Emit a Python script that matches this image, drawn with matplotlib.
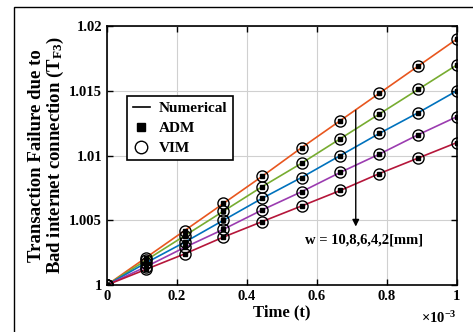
import matplotlib.pyplot as plt
from matplotlib.patches import Rectangle

plt.rcParams['font.family'] = ['Liberation Serif', 'DejaVu Serif']
plt.rcParams['font.weight'] = 'bold'
plt.rcParams['mathtext.fontset'] = 'custom'
plt.rcParams['mathtext.rm'] = 'Liberation Serif:bold'
plt.rcParams['mathtext.it'] = 'Liberation Serif:bold'

# time in units of 1e-3
t = [0, 0.111, 0.222, 0.333, 0.444, 0.556, 0.667, 0.778, 0.889, 1.0]
w_labels = ["10", "8", "6", "4", "2"]
T_w10 = [1.0000, 1.0021, 1.0042, 1.0063, 1.0084, 1.0106, 1.0127, 1.0148, 1.0169, 1.0190]
T_w8 = [1.0000, 1.0019, 1.0038, 1.0057, 1.0076, 1.0094, 1.0113, 1.0132, 1.0151, 1.0170]
T_w6 = [1.0000, 1.0017, 1.0033, 1.0050, 1.0067, 1.0083, 1.0100, 1.0117, 1.0133, 1.0150]
T_w4 = [1.0000, 1.0014, 1.0029, 1.0043, 1.0058, 1.0072, 1.0087, 1.0101, 1.0116, 1.0130]
T_w2 = [1.0000, 1.0012, 1.0024, 1.0037, 1.0049, 1.0061, 1.0073, 1.0086, 1.0098, 1.0110]
series = [T_w10, T_w8, T_w6, T_w4, T_w2]
colors = ['#E8561E', '#77AC30', '#0072BD', '#9B3CB0', '#B5163A']

fig = plt.figure(figsize=(4.73, 3.32), dpi=100)
ax = fig.add_axes([0.226, 0.1416, 0.74, 0.78])

for y, c in zip(series, colors):
    ax.plot(t, y, color=c, lw=1.2, zorder=2)
    ax.plot(t, y, 's', color='k', ms=3.2, zorder=3)
    ax.plot(t, y, 'o', mfc='none', mec='k', mew=1.0, ms=8, zorder=3)

ax.set_xlim(0, 1)
ax.set_ylim(1, 1.02)
ax.set_xticks([0, 0.2, 0.4, 0.6, 0.8, 1])
ax.set_xticklabels(['0', '0.2', '0.4', '0.6', '0.8', '1'])
ax.set_yticks([1, 1.005, 1.01, 1.015, 1.02])
ax.set_yticklabels(['1', '1.005', '1.01', '1.015', '1.02'])
ax.tick_params(direction='in', top=True, right=True, labelsize=10.5, length=4, width=1)
ax.grid(True, color='#d0d0d0', lw=0.8)
ax.set_axisbelow(True)
for s in ax.spines.values():
    s.set_linewidth(1.2)

ax.set_xlabel('Time (t)', fontsize=12, fontweight='bold', labelpad=1)
ax.set_ylabel('Transaction Failure due to\nBad internet connection (T$_{F3}$)',
              fontsize=13.5, fontweight='bold', labelpad=2, linespacing=1.0)
ax.text(1.0, -0.127, r'$\times$10$^{-3}$', transform=ax.transAxes, ha='right', va='center',
        fontsize=10.5)

# legend
h1, = ax.plot([], [], '-', color='k', lw=1.2)
h2, = ax.plot([], [], 's', color='k', ms=6)
h3, = ax.plot([], [], 'o', mfc='none', mec='k', ms=9)
leg = ax.legend([h1, h2, h3], ['Numerical', 'ADM', 'VIM'], loc='upper left',
                bbox_to_anchor=(0.037, 0.76), fontsize=11, handlelength=1.1,
                fancybox=False, edgecolor='k', framealpha=1, borderpad=0.35,
                labelspacing=0.42, handletextpad=0.6)
leg.get_frame().set_linewidth(1.2)
for tx in leg.get_texts():
    tx.set_fontweight('bold')

ax.annotate('', xy=(0.711, 1.0043), xytext=(0.711, 1.0137),
            arrowprops=dict(arrowstyle='-|>', color='k', lw=1.0, mutation_scale=10))
ax.text(0.735, 1.0035, 'w = ' + ','.join(w_labels) + '[mm]', ha='center', va='center',
        fontsize=10.5)

fig.patches.append(Rectangle((14 / 473, -0.5), 2, 0.5 + 1 - 7 / 332, fill=False,
                             edgecolor='k', lw=1.0, transform=fig.transFigure))

fig.savefig('out.png', dpi=100)
